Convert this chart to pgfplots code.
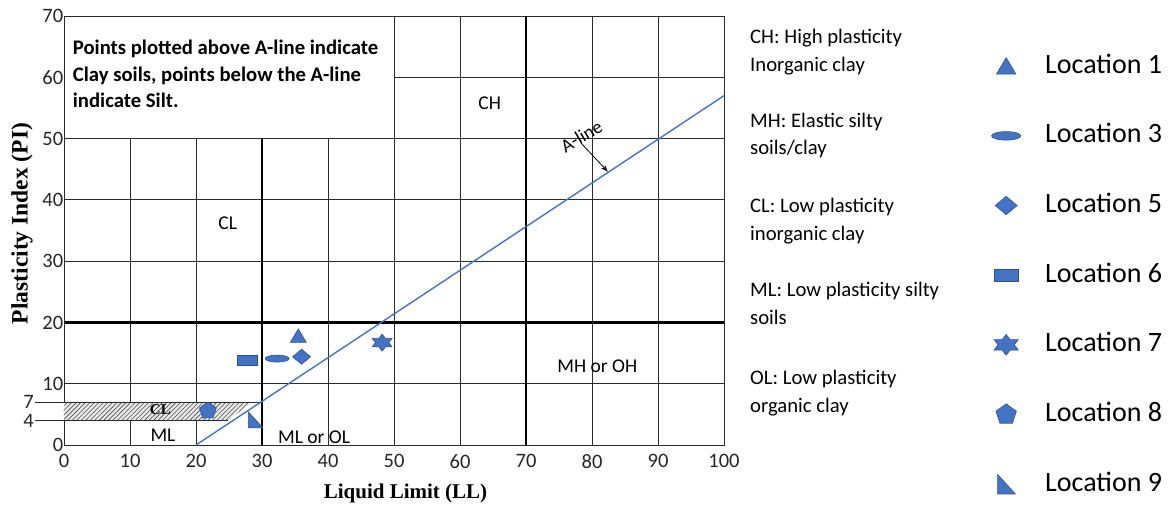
\documentclass[border=0pt]{standalone}
\usepackage{fontspec}
\setmainfont{Carlito}
\newfontfamily\labelfont{Liberation Serif}
\usepackage{pgfplots}
\pgfplotsset{compat=1.18}
\usetikzlibrary{patterns.meta,arrows.meta}

\definecolor{markblue}{HTML}{4472C4}
\definecolor{markedge}{HTML}{2F528F}
\definecolor{gridc}{HTML}{2B2B2B}

% Marker shapes for the sampling locations
\pgfdeclareplotmark{loctri}{%
  \pgfpathmoveto{\pgfqpoint{-8pt}{-6.5pt}}%
  \pgfpathlineto{\pgfqpoint{8pt}{-6.5pt}}%
  \pgfpathlineto{\pgfqpoint{0pt}{7pt}}%
  \pgfpathclose\pgfusepathqfillstroke}
\pgfdeclareplotmark{locellipse}{%
  \pgfpathellipse{\pgfpointorigin}{\pgfqpoint{12pt}{0pt}}{\pgfqpoint{0pt}{3.5pt}}%
  \pgfusepathqfillstroke}
\pgfdeclareplotmark{locdiamond}{%
  \pgfpathmoveto{\pgfqpoint{0pt}{7.5pt}}%
  \pgfpathlineto{\pgfqpoint{9pt}{0pt}}%
  \pgfpathlineto{\pgfqpoint{0pt}{-7.5pt}}%
  \pgfpathlineto{\pgfqpoint{-9pt}{0pt}}%
  \pgfpathclose\pgfusepathqfillstroke}
\pgfdeclareplotmark{locrect}{%
  \pgfpathrectangle{\pgfqpoint{-10pt}{-5pt}}{\pgfqpoint{20pt}{10pt}}%
  \pgfusepathqfillstroke}
\pgfdeclareplotmark{locstar}{%
  \pgfpathmoveto{\pgfqpoint{0pt}{8.5pt}}%
  \pgfpathlineto{\pgfqpoint{-3.32pt}{4.25pt}}%
  \pgfpathlineto{\pgfqpoint{-9.96pt}{4.25pt}}%
  \pgfpathlineto{\pgfqpoint{-6.64pt}{0pt}}%
  \pgfpathlineto{\pgfqpoint{-9.96pt}{-4.25pt}}%
  \pgfpathlineto{\pgfqpoint{-3.32pt}{-4.25pt}}%
  \pgfpathlineto{\pgfqpoint{0pt}{-8.5pt}}%
  \pgfpathlineto{\pgfqpoint{3.32pt}{-4.25pt}}%
  \pgfpathlineto{\pgfqpoint{9.96pt}{-4.25pt}}%
  \pgfpathlineto{\pgfqpoint{6.64pt}{0pt}}%
  \pgfpathlineto{\pgfqpoint{9.96pt}{4.25pt}}%
  \pgfpathlineto{\pgfqpoint{3.32pt}{4.25pt}}%
  \pgfpathclose\pgfusepathqfillstroke}
\pgfdeclareplotmark{locpent}{%
  \pgfpathmoveto{\pgfqpoint{0pt}{8.8pt}}%
  \pgfpathlineto{\pgfqpoint{-8.37pt}{2.72pt}}%
  \pgfpathlineto{\pgfqpoint{-5.17pt}{-7.12pt}}%
  \pgfpathlineto{\pgfqpoint{5.17pt}{-7.12pt}}%
  \pgfpathlineto{\pgfqpoint{8.37pt}{2.72pt}}%
  \pgfpathclose\pgfusepathqfillstroke}
\pgfdeclareplotmark{locrtri}{%
  \pgfpathmoveto{\pgfqpoint{-7pt}{8pt}}%
  \pgfpathlineto{\pgfqpoint{-7pt}{-8pt}}%
  \pgfpathlineto{\pgfqpoint{7.5pt}{-8pt}}%
  \pgfpathclose\pgfusepathqfillstroke}

\pgfplotsset{
  loc/.style={only marks, mark=#1,
    mark options={fill=markblue, draw=markedge, line width=0.6pt}},
}

\newcommand{\descfont}{\fontsize{20.7}{26}\selectfont}

\begin{document}
\begin{tikzpicture}
\path[use as bounding box] (-64pt,-61pt) rectangle (1105pt,445pt);

\begin{axis}[
  scale only axis,
  width=660pt, height=429pt,
  xmin=0, xmax=100, ymin=0, ymax=70,
  xtick={0,10,...,100}, ytick={0,10,...,70},
  major tick length=0pt,
  axis line style={gridc, line width=0.9pt},
  /pgf/number format/assume math mode=true,
  tick label style={font=\fontsize{20.5}{24}\selectfont, text=black!85},
  xticklabel style={yshift=-5.7pt},
  yticklabel style={xshift=2.8pt},
  clip=false,
  legend cell align=left,
  legend style={at={(rel axis cs:1.4045,0.9138)}, anchor=north west,
    draw=none, fill=none, inner sep=0pt, row sep=43.67pt,
    font=\fontsize{28}{30}\selectfont,
    nodes={inner sep=0pt, text height=20pt, text depth=6pt},
    /tikz/every odd column/.append style={column sep=24pt}},
  legend image code/.code={%
    \pgfpathrectangle{\pgfqpoint{-15pt}{-10pt}}{\pgfqpoint{30pt}{20pt}}%
    \pgfusepath{use as bounding box}%
    \draw[#1, every mark/.append style={scale=1.22}] plot coordinates {(0pt,0pt)};},
]

% chart grid: thin lines
\draw[gridc, line width=1pt]
  (axis cs:10,0) -- (axis cs:10,50)
  (axis cs:20,0) -- (axis cs:20,50)
  (axis cs:40,0) -- (axis cs:40,50)
  (axis cs:50,0) -- (axis cs:50,70)
  (axis cs:60,0) -- (axis cs:60,70)
  (axis cs:80,0) -- (axis cs:80,70)
  (axis cs:90,0) -- (axis cs:90,70)
  (axis cs:0,10) -- (axis cs:100,10)
  (axis cs:0,30) -- (axis cs:100,30)
  (axis cs:0,40) -- (axis cs:100,40)
  (axis cs:0,50) -- (axis cs:100,50)
  (axis cs:50,60) -- (axis cs:100,60);
% chart grid: boundary lines LL=30, LL=70, PI=20
\draw[black, line width=2.4pt]
  (axis cs:30,0) -- (axis cs:30,50)
  (axis cs:70,0) -- (axis cs:70,70)
  (axis cs:0,20) -- (axis cs:100,20);

% CL-ML band between PI 4 and 7
\fill[gray!18] (axis cs:0,4) -- (axis cs:24.8,4) -- (axis cs:28.5,7) -- (axis cs:0,7) -- cycle;
\fill[pattern={Lines[angle=45,distance=3.2pt,line width=0.6pt]}, pattern color=black!70]
  (axis cs:0,4) -- (axis cs:24.8,4) -- (axis cs:28.5,7) -- (axis cs:0,7) -- cycle;
\draw[gridc, line width=1pt] ([xshift=-29pt]axis cs:0,7) -- (axis cs:30,7);
\draw[gridc, line width=1pt] ([xshift=-29pt]axis cs:0,4) -- (axis cs:24.8,4);
\node[anchor=east, inner sep=0pt, font=\fontsize{20.5}{24}\selectfont, text=black!85]
  at ([xshift=-30pt]axis cs:0,7) {7};
\node[anchor=east, inner sep=0pt, font=\fontsize{20.5}{24}\selectfont, text=black!85]
  at ([xshift=-30pt]axis cs:0,4) {4};

% A-line
\addplot[markblue, line width=1.4pt, forget plot] coordinates {(20,0) (100,57)};
\node[rotate=31, font=\fontsize{19}{22}\selectfont] at (axis cs:78.4,50.4) {A-line};
\draw[black, line width=0.8pt, -{Stealth[length=7pt,width=5pt]}]
  (axis cs:78.3,49.3) -- (axis cs:82.4,44.6);

% group labels
\node[font=\fontsize{19.5}{22}\selectfont] at (axis cs:64.5,55.8) {CH};
\node[font=\fontsize{19.5}{22}\selectfont] at (axis cs:24.8,36.2) {CL};
\node[font=\fontsize{19.5}{22}\selectfont] at (axis cs:80.8,12.9) {MH or OH};
\node[font=\fontsize{19.5}{22}\selectfont] at (axis cs:15.0,1.6) {ML};
\node[font=\fontsize{19.5}{22}\selectfont] at (axis cs:37.9,1.3) {ML or OL};
\node[font=\labelfont\bfseries\fontsize{15}{17}\selectfont] at (axis cs:14.6,5.7) {CL};

% sampled locations
\addplot[loc=loctri]     coordinates {(35.5,17.8)};
\addlegendentry{Location 1}
\addplot[loc=locellipse] coordinates {(32.3,14.1)};
\addlegendentry{Location 3}
\addplot[loc=locdiamond] coordinates {(36.0,14.4)};
\addlegendentry{Location 5}
\addplot[loc=locrect]    coordinates {(27.8,13.8)};
\addlegendentry{Location 6}
\addplot[loc=locstar]    coordinates {(48.2,16.7)};
\addlegendentry{Location 7}
\addplot[loc=locpent]    coordinates {(21.8,5.6)};
\addlegendentry{Location 8}
\addplot[loc=locrtri]    coordinates {(29.0,4.1)};
\addlegendentry{Location 9}
\end{axis}

% note box text
\begin{scope}[every node/.style={anchor=base west, inner sep=0pt,
    font=\bfseries\fontsize{20.7}{26}\selectfont}]
\node at (8.7pt,390pt) {Points plotted above A-line indicate};
\node at (8.7pt,363pt) {Clay soils, points below the A-line};
\node at (8.7pt,337pt) {indicate Silt.};
\end{scope}

% axis titles
\node[font=\labelfont\bfseries\fontsize{21}{24}\selectfont] at (341.5pt,-48pt) {Liquid Limit (LL)};
\node[rotate=90, font=\labelfont\bfseries\fontsize{23.5}{26}\selectfont] at (-42pt,221.5pt) {Plasticity Index (PI)};

% soil group descriptions
\begin{scope}[every node/.style={anchor=base west, inner sep=0pt, font=\descfont}]
\node at (686pt,401pt) {CH: High plasticity};
\node at (686pt,373pt) {Inorganic clay};
\node at (686pt,317pt) {MH: Elastic silty};
\node at (686pt,290pt) {soils/clay};
\node at (686pt,232pt) {CL: Low plasticity};
\node at (686pt,204pt) {inorganic clay};
\node at (686pt,148pt) {ML: Low plasticity silty};
\node at (686pt,120pt) {soils};
\node at (686pt,60pt) {OL: Low plasticity};
\node at (686pt,33pt) {organic clay};
\end{scope}
\end{tikzpicture}
\end{document}
